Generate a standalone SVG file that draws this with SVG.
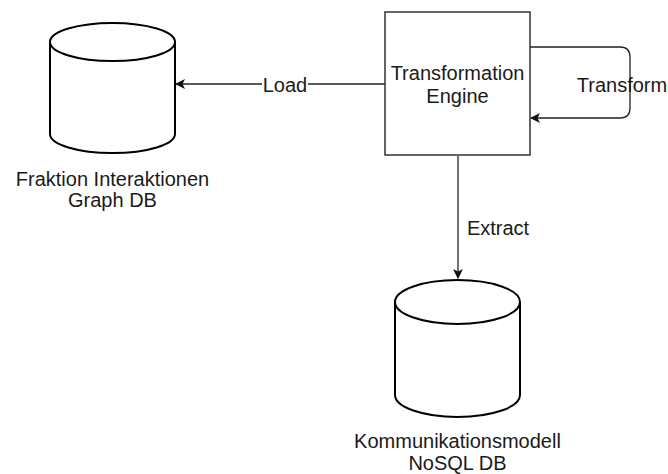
<svg xmlns="http://www.w3.org/2000/svg" width="668" height="474" viewBox="0 0 668 474">
<style>
.t{font-family:"Liberation Sans",Arial,sans-serif;font-size:20px;fill:#1a1a1a;text-anchor:middle}
.cyl{fill:#fff;stroke:#000;stroke-width:2}
.box{fill:#fff;stroke:#333;stroke-width:1.5}
.edge{fill:none;stroke:#222;stroke-width:1.3}
</style>
<defs>
<marker id="arr" viewBox="0 0 10 10" refX="9" refY="5" markerWidth="10" markerHeight="10" markerUnits="userSpaceOnUse" orient="auto">
<path d="M0,0 L10,5 L0,10 L2.5,5 Z" fill="#111"/>
</marker>
</defs>
<rect width="668" height="474" fill="#fff"/>
<g id="connectors">
<path class="edge" d="M385,84 L176,84" marker-end="url(#arr)"/>
<rect x="262" y="72" width="46" height="24" fill="#fff"/>
<text class="t" x="285" y="92">Load</text>
<path class="edge" d="M530,47 L620,47 Q630,47 630,57 L630,108 Q630,118 620,118 L531,118" marker-end="url(#arr)"/>
<text class="t" x="622" y="92">Transform</text>
<path class="edge" d="M458,156 L458,278" marker-end="url(#arr)"/>
<text class="t" x="498" y="235">Extract</text>
</g>
<g id="engine">
<rect class="box" x="385" y="12" width="145" height="143"/>
<text class="t" x="457.5" y="80">Transformation</text>
<text class="t" x="457.5" y="103">Engine</text>
</g>
<g id="graphdb">
<path class="cyl" d="M50,42 A62.5,19 0 0 1 175,42 L175,134 A62.5,19 0 0 1 50,134 Z"/>
<path class="cyl" fill="none" d="M50,42 A62.5,19 0 0 0 175,42"/>
<text class="t" x="112.5" y="186">Fraktion Interaktionen</text>
<text class="t" x="112.5" y="207">Graph DB</text>
</g>
<g id="nosqldb">
<path class="cyl" d="M395,302 A62.5,22 0 0 1 520,302 L520,395 A62.5,22 0 0 1 395,395 Z"/>
<path class="cyl" fill="none" d="M395,302 A62.5,22 0 0 0 520,302"/>
<text class="t" x="457.5" y="448">Kommunikationsmodell</text>
<text class="t" x="457.5" y="470">NoSQL DB</text>
</g>
</svg>
